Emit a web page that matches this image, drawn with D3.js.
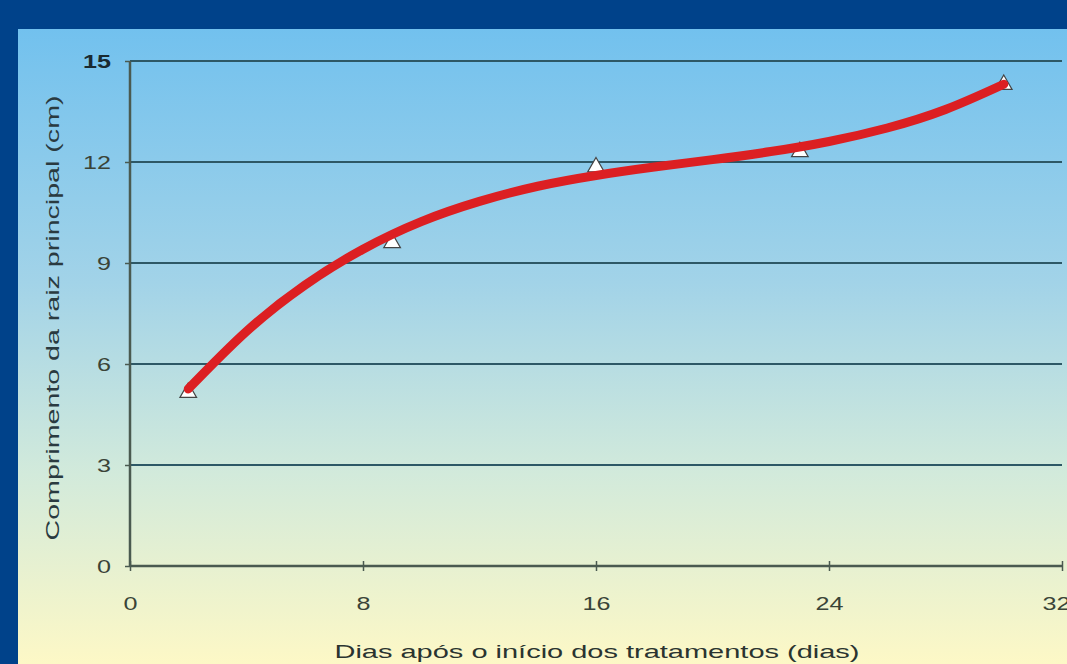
<!DOCTYPE html>
<html><head><meta charset="utf-8">
<script src="https://cdn.jsdelivr.net/npm/d3@7"></script>
<style>body{margin:0;padding:0;background:#00428a;}svg{display:block;}</style>
</head><body>
<svg id="chart" width="1067" height="664"></svg>
<script>
// Data
const dayValues = [2, 9, 16, 23, 30];
const rootLength = [5.15, 9.6, 11.85, 12.3, 14.3];
// Trend line values
const trendDays = [2, 4, 6, 8, 10, 12, 14, 16, 18, 20, 22, 24, 26, 28, 30];
const trendLength = [5.26, 6.97, 8.34, 9.41, 10.23, 10.83, 11.28, 11.6, 11.85, 12.07, 12.31, 12.61, 13.01, 13.56, 14.31];
const xTicks = [0, 8, 16, 24, 32];
const yTicks = [0, 3, 6, 9, 12, 15];
const xTitle = "Dias após o início dos tratamentos (dias)";
const yTitle = "Comprimento da raiz principal (cm)";

const FONT = "Liberation Sans, Arial, sans-serif";
const svg = d3.select("#chart");
const W = 1067, H = 664;
const defs = svg.append("defs");
const grad = defs.append("linearGradient").attr("id","bg").attr("x1",0).attr("y1",0).attr("x2",0).attr("y2",1);
grad.append("stop").attr("offset","0%").attr("stop-color","#72c1ee");
grad.append("stop").attr("offset","40%").attr("stop-color","#a2d3e8");
grad.append("stop").attr("offset","70%").attr("stop-color","#d2eadb");
grad.append("stop").attr("offset","100%").attr("stop-color","#fdf8c6");

svg.append("rect").attr("width",W).attr("height",H).attr("fill","#00428a");
svg.append("rect").attr("x",18).attr("y",29).attr("width",W-18).attr("height",H-29).attr("fill","url(#bg)");

const x = d3.scaleLinear().domain([0,32]).range([130,1062]);
const y = d3.scaleLinear().domain([0,15]).range([566,61]);

// gridlines
svg.append("g").selectAll("line").data(yTicks.filter(d=>d>0)).join("line")
  .attr("x1",x(0)).attr("x2",x(32)).attr("y1",d=>y(d)).attr("y2",d=>y(d))
  .attr("stroke","#2d5866").attr("stroke-width",2);

// axes
const yAxis = svg.append("g").attr("transform",`translate(${x(0)},0)`)
  .call(d3.axisLeft(y).tickValues(yTicks).tickSize(5).tickPadding(14).tickFormat(d3.format("d")));
const xAxis = svg.append("g").attr("transform",`translate(0,${y(0)})`)
  .call(d3.axisBottom(x).tickValues(xTicks).tickSize(5).tickPadding(26).tickFormat(d3.format("d")));
[yAxis,xAxis].forEach(a=>{
  a.select(".domain").attr("stroke","#4a5a50").attr("stroke-width",2.5);
  a.selectAll(".tick line").attr("stroke","#4a5a50").attr("stroke-width",1.5);
  a.selectAll("text").attr("fill","#3a4438").attr("font-family",FONT).attr("font-size",19)
    .attr("textLength",d=>String(d).length*14).attr("lengthAdjust","spacingAndGlyphs");
});
xAxis.select(".domain").attr("d",`M${x(0)},0H${x(32)}`);
yAxis.select(".domain").attr("d",`M0,${y(0)}V${y(15)}`);
yAxis.selectAll(".tick text").filter(d=>d===15).attr("font-weight","bold").attr("fill","#1a2a30");
xAxis.selectAll(".tick line").attr("y1",-5).attr("y2",5);
xAxis.selectAll(".tick text").filter(d=>d===32).attr("text-anchor","end").attr("x",8);

// titles
svg.append("text").attr("x",597).attr("y",658).attr("text-anchor","middle")
  .attr("font-family",FONT).attr("font-size",19).attr("fill","#2a3430")
  .attr("textLength",525).attr("lengthAdjust","spacingAndGlyphs").text(xTitle);
svg.append("text").attr("transform","translate(59,318) rotate(-90)").attr("text-anchor","middle")
  .attr("font-family",FONT).attr("font-size",18).attr("fill","#2a3a40")
  .attr("textLength",445).attr("lengthAdjust","spacingAndGlyphs").text(yTitle);

// points
const tri = d3.symbol().type(d3.symbolTriangle).size(120);
svg.append("g").selectAll("path").data(dayValues.map((d,i)=>[d,rootLength[i]])).join("path")
  .attr("d",tri).attr("transform",d=>`translate(${x(d[0])},${y(d[1])})`)
  .attr("fill","#ffffff").attr("stroke","#444").attr("stroke-width",1.2);

// trend line
const line = d3.line().x(d=>x(d[0])).y(d=>y(d[1])).curve(d3.curveNatural);
svg.append("path").datum(trendDays.map((d,i)=>[d,trendLength[i]]))
  .attr("d",line).attr("fill","none").attr("stroke","#dc1f22").attr("stroke-width",9).attr("stroke-linecap","round");
</script>
</body></html>
